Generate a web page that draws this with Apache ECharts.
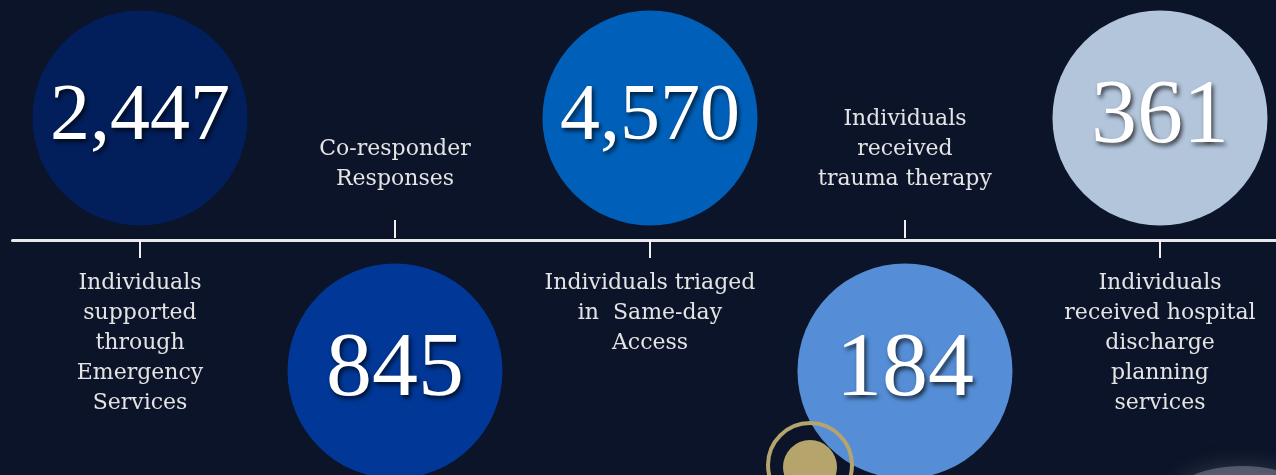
<!DOCTYPE html>
<html>
<head>
<meta charset="utf-8">
<script src="https://cdn.jsdelivr.net/npm/echarts@6/dist/echarts.min.js"></script>
<style>
  html, body { margin: 0; padding: 0; background: #0b1428; }
  #chart { width: 1276px; height: 475px; }
</style>
</head>
<body>
<div id="chart"></div>
<script>
// ---- data ----
const categories = ['Emergency Services', 'Co-responder', 'Same-day Access', 'Trauma Therapy', 'Hospital Discharge'];
const values = [2447, 845, 4570, 184, 361];
const descriptions = [
  'Individuals\nsupported\nthrough\nEmergency\nServices',
  'Co-responder\nResponses',
  'Individuals triaged\nin  Same-day\nAccess',
  'Individuals\nreceived\ntrauma therapy',
  'Individuals\nreceived hospital\ndischarge\nplanning\nservices'
];
const circleSide = ['above', 'below', 'above', 'below', 'above'];

// ---- styles ----
const palette = ['#021f5b', '#013796', '#0060b9', '#558ed6', '#b3c5db'];
const textColor = '#e4e4e4';
const gold = '#b5a46b';

const chart = echarts.init(document.getElementById('chart'), null, { renderer: 'canvas' });

const circleData = values.map((v, i) => ({
  value: [i, circleSide[i] === 'above' ? 122 : -131],
  itemStyle: { color: palette[i], opacity: 1 },
  label: { fontSize: String(v).length > 3 ? 80 : 92 }
}));

const tickData = categories.map((c, i) => [i, circleSide[i] === 'above' ? -9 : 11]);

const descData = descriptions.map((d, i) => ({
  value: [i, 0],
  label: circleSide[i] === 'above'
    ? { position: 'bottom', distance: 28 }
    : { position: 'top', distance: 45 }
}));

chart.setOption({
  backgroundColor: '#0b1428',
  animation: false,
  grid: { left: 12.5, right: 0, top: 0, bottom: 0 },
  xAxis: {
    type: 'value',
    min: -0.5,
    max: 4.455,
    axisLine: { show: true, onZero: true, lineStyle: { color: '#e8e8ea', width: 3 } },
    axisTick: { show: false },
    axisLabel: { show: false },
    splitLine: { show: false }
  },
  yAxis: {
    type: 'value',
    min: -235,
    max: 240,
    show: false
  },
  graphic: [
    {
      type: 'ellipse', z: 50, silent: true,
      shape: { cx: 1242, cy: 496, rx: 68, ry: 30 },
      style: {
        fill: 'rgba(135,140,155,0.5)',
        shadowBlur: 22,
        shadowColor: 'rgba(135,140,155,0.6)'
      }
    },
    {
      type: 'circle', z: 100, silent: true,
      shape: { cx: 810, cy: 465, r: 42 },
      style: { fill: 'none', stroke: gold, lineWidth: 4 }
    },
    {
      type: 'circle', z: 100, silent: true,
      shape: { cx: 810, cy: 467, r: 27 },
      style: { fill: gold }
    }
  ],
  series: [
    {
      type: 'scatter',
      name: 'circles',
      clip: false,
      symbol: 'circle',
      symbolSize: 215,
      itemStyle: { opacity: 1 },
      data: circleData,
      label: {
        show: true,
        position: 'inside',
        formatter: p => values[p.dataIndex].toLocaleString('en-US'),
        color: '#ffffff',
        opacity: 1,
        fontFamily: 'Liberation Serif',
        textShadowColor: 'rgba(0,0,0,0.7)',
        textShadowBlur: 4,
        textShadowOffsetX: 2,
        textShadowOffsetY: 3
      },
      emphasis: { disabled: true }
    },
    {
      type: 'scatter',
      name: 'ticks',
      clip: false,
      symbol: 'rect',
      symbolSize: [2, 18],
      itemStyle: { color: '#f0f0f0', opacity: 1 },
      data: tickData,
      emphasis: { disabled: true }
    },
    {
      type: 'scatter',
      name: 'descriptions',
      clip: false,
      symbolSize: 1,
      itemStyle: { color: 'transparent', opacity: 1 },
      data: descData,
      label: {
        show: true,
        formatter: p => descriptions[p.dataIndex],
        color: textColor,
        opacity: 1,
        fontFamily: 'DejaVu Serif',
        fontSize: 22,
        lineHeight: 30,
        align: 'center'
      },
      emphasis: { disabled: true }
    }
  ]
});
</script>
</body>
</html>
